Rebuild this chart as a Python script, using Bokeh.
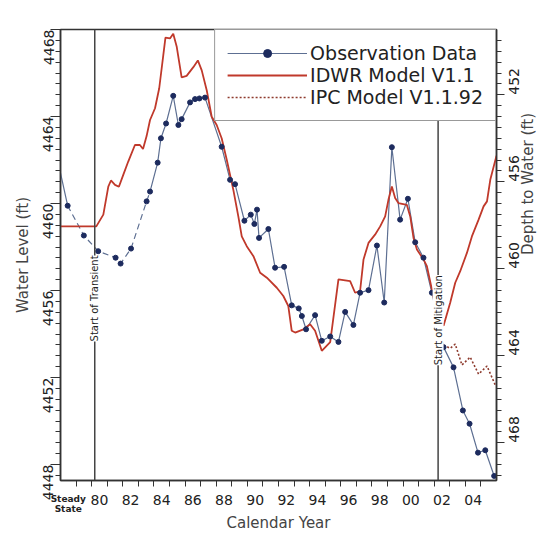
import math
from bokeh.plotting import figure
from bokeh.models import Range1d, LinearAxis, FixedTicker, Span, Label, Legend, LegendItem
from bokeh.embed import file_html
from bokeh.resources import INLINE

# ---------------- data ----------------
obs_year = [1978.00, 1978.46, 1979.50, 1980.42, 1981.54, 1981.86, 1982.53, 1983.53, 1983.75,
            1984.24, 1984.45, 1984.78, 1985.24, 1985.57, 1985.78, 1986.32, 1986.64, 1986.92,
            1987.28, 1988.35, 1988.89, 1989.21, 1989.81, 1990.22, 1990.45, 1990.62, 1990.75,
            1991.35, 1991.78, 1992.36, 1992.85, 1993.30, 1993.50, 1993.77, 1994.35, 1994.78,
            1995.32, 1995.85, 1996.28, 1996.81, 1997.24, 1997.78, 1998.32, 1998.79, 1999.28,
            1999.81, 2000.31, 2000.78, 2001.31, 2001.85, 2002.60, 2003.24, 2003.84, 2004.27,
            2004.81, 2005.28, 2005.85]
obs_level = [4461.40, 4459.90, 4458.53, 4457.81, 4457.51, 4457.24, 4457.93, 4460.10, 4460.55,
             4461.88, 4463.00, 4463.68, 4464.95, 4463.61, 4463.88, 4464.65, 4464.80, 4464.83,
             4464.87, 4462.61, 4461.09, 4460.89, 4459.21, 4459.49, 4459.06, 4459.72, 4458.42,
             4458.83, 4457.05, 4457.09, 4455.32, 4455.18, 4454.83, 4454.22, 4454.87, 4453.69,
             4453.89, 4453.64, 4455.02, 4454.42, 4455.90, 4456.02, 4458.07, 4455.45, 4462.59,
             4459.26, 4460.22, 4458.22, 4457.51, 4455.90, 4453.40, 4452.47, 4450.49, 4449.88,
             4448.55, 4448.66, 4447.48]
obs_dashed_from = 1      # index where the interpolated (dashed) part begins
obs_dashed_to = 8        # index where it ends

idwr_year = [1978.00, 1980.30, 1980.75, 1981.07, 1981.24, 1981.50, 1981.75, 1982.03, 1982.35,
             1982.78, 1983.10, 1983.30, 1983.53, 1983.75, 1984.07, 1984.34, 1984.60, 1984.74,
             1985.03, 1985.24, 1985.46, 1985.78, 1986.10, 1986.53, 1986.82, 1987.07, 1987.39,
             1987.71, 1988.03, 1988.35, 1988.68, 1989.10, 1989.42, 1989.64, 1989.96, 1990.39,
             1990.82, 1991.25, 1991.89, 1992.31, 1992.63, 1992.85, 1993.07, 1993.60, 1994.03,
             1994.35, 1994.78, 1995.32, 1995.85, 1996.60, 1996.92, 1997.24, 1997.46, 1997.78,
             1998.20, 1998.53, 1998.85, 1999.06, 1999.28, 1999.49, 1999.70, 2000.24, 2000.46,
             2000.67, 2000.89, 2001.31, 2001.53, 2001.85, 2002.17, 2002.60, 2003.03, 2003.35,
             2003.67, 2004.10, 2004.42, 2004.85, 2005.17, 2005.39, 2005.60, 2006.00]
idwr_level = [4458.95, 4458.95, 4459.49, 4460.78, 4461.06, 4460.86, 4460.77, 4461.32, 4461.93,
              4462.69, 4462.69, 4462.51, 4463.10, 4463.84, 4464.38, 4465.30, 4466.81, 4467.63,
              4467.59, 4467.80, 4467.22, 4465.80, 4465.87, 4466.27, 4466.58, 4466.12, 4465.21,
              4463.99, 4463.61, 4463.00, 4462.00, 4460.63, 4459.41, 4458.49, 4458.04, 4457.58,
              4456.82, 4456.59, 4456.13, 4455.75, 4455.29, 4454.15, 4454.07, 4454.22, 4454.45,
              4454.15, 4453.23, 4453.63, 4456.51, 4456.43, 4455.90, 4455.98, 4457.43, 4458.19,
              4458.57, 4458.95, 4459.41, 4460.17, 4460.78, 4460.25, 4460.02, 4459.94, 4459.41,
              4458.42, 4457.89, 4457.43, 4457.12, 4456.05, 4454.99, 4454.38, 4455.45, 4456.36,
              4456.89, 4457.73, 4458.49, 4459.26, 4459.87, 4460.10, 4461.09, 4462.20]

ipc_year = [2002.60, 2003.03, 2003.35, 2003.78, 2004.31, 2004.85, 2005.39, 2005.92]
ipc_level = [4453.49, 4453.35, 4453.54, 4452.58, 4452.94, 4452.16, 4452.53, 4451.66]

event_year = [1980.2, 2002.25]
event_text = ["Start of Transient", "Start of Mitigation"]
event_text_level = [4455.64, 4454.64]

x_label_years = [1980, 1982, 1984, 1986, 1988, 1990, 1992, 1994, 1996, 1998, 2000, 2002, 2004]
x_labels = ["80", "82", "84", "86", "88", "90", "92", "94", "96", "98", "00", "02", "04"]
steady_year = 1978
steady_text = "Steady\nState"

level_ticks = [4448, 4452, 4456, 4460, 4464, 4468]
depth_ticks = [452, 456, 460, 464, 468]
depth_datum = 4917.0

series_names = ["Observation Data", "IDWR Model V1.1", "IPC Model V1.1.92"]

# ---------------- figure ----------------
X0, X1 = 1978.0, 2006.0
Y0, Y1 = 4447.27, 4468.0
FONT = "DejaVu Sans"
AX = "#333333"

p = figure(width=548, height=534, x_range=Range1d(X0, X1), y_range=Range1d(Y0, Y1),
           output_backend="svg", toolbar_location=None,
           min_border_left=60, min_border_right=52, min_border_top=29, min_border_bottom=52)
p.background_fill_color = "white"
p.border_fill_color = "white"
p.outline_line_color = AX
p.outline_line_width = 1.5
p.xgrid.visible = False
p.ygrid.visible = False

# x axis (year labels centred in each year, ticks at year boundaries)
xa = p.xaxis[0]
xa.ticker = FixedTicker(ticks=[y + 0.5 for y in x_label_years],
                        minor_ticks=[float(y) for y in range(1979, 2006)])
xa.major_label_overrides = {y + 0.5: t for y, t in zip(x_label_years, x_labels)}
xa.major_tick_out = 0
xa.major_tick_in = 0
xa.minor_tick_out = 6
xa.minor_tick_in = 0
xa.major_label_standoff = 8
xa.major_label_text_font = FONT
xa.major_label_text_font_size = "14px"
xa.major_label_text_color = "#222222"
xa.axis_line_color = AX
xa.axis_line_width = 1.5
xa.major_tick_line_color = AX
xa.minor_tick_line_color = AX

# second bottom axis: the small "Steady State" label and the axis title
xb = LinearAxis(ticker=FixedTicker(ticks=[steady_year + 0.5]))
xb.major_label_overrides = {steady_year + 0.5: steady_text}
xb.major_label_text_font = FONT
xb.major_label_text_font_size = "9px"
xb.major_label_text_font_style = "bold"
xb.major_label_text_color = "#222222"
xb.major_label_text_line_height = 1.0
xb.major_label_standoff = -14
xb.major_tick_out = 0
xb.major_tick_in = 0
xb.minor_tick_out = 0
xb.minor_tick_in = 0
xb.axis_line_color = None
xb.axis_label = "Calendar Year"
xb.axis_label_text_font = FONT
xb.axis_label_text_font_size = "15px"
xb.axis_label_text_font_style = "normal"
xb.axis_label_standoff = -3
p.add_layout(xb, "below")

# left axis
ya = p.yaxis[0]
ya.ticker = FixedTicker(ticks=level_ticks,
                        minor_ticks=[4447.5 + 0.5 * i for i in range(41)])
ya.major_tick_out = 10
ya.major_tick_in = 0
ya.minor_tick_out = 5
ya.minor_tick_in = 0
ya.major_label_orientation = math.pi / 2
ya.major_label_standoff = 2
ya.major_label_text_font = FONT
ya.major_label_text_font_size = "14px"
ya.major_label_text_color = "#222222"
ya.axis_label = "Water Level (ft)"
ya.axis_label_text_font = FONT
ya.axis_label_text_font_size = "15px"
ya.axis_label_text_font_style = "normal"
ya.axis_label_standoff = 4
ya.axis_line_color = AX
ya.axis_line_width = 1.5
ya.major_tick_line_color = AX
ya.minor_tick_line_color = AX

# right axis (depth to water)
p.extra_y_ranges = {"depth": Range1d(depth_datum - Y0, depth_datum - Y1)}
ra = LinearAxis(y_range_name="depth")
ra.ticker = FixedTicker(ticks=depth_ticks,
                        minor_ticks=[449.5 + 0.5 * i for i in range(41)])
ra.major_tick_out = 8
ra.major_tick_in = 0
ra.minor_tick_out = 5
ra.minor_tick_in = 0
ra.major_label_orientation = math.pi / 2
ra.major_label_standoff = 10
ra.major_label_text_font = FONT
ra.major_label_text_font_size = "14px"
ra.major_label_text_color = "#222222"
ra.axis_label = "Depth to Water (ft)"
ra.axis_label_orientation = math.pi / 2
ra.axis_label_text_font = FONT
ra.axis_label_text_font_size = "15px"
ra.axis_label_text_font_style = "normal"
ra.axis_label_standoff = 0
ra.axis_line_color = AX
ra.axis_line_width = 1.5
ra.major_tick_line_color = AX
ra.minor_tick_line_color = AX
p.add_layout(ra, "right")

# event lines
for yr in event_year:
    p.add_layout(Span(location=yr, dimension="height", line_color="#444444", line_width=1.5))

# series
OBS_LINE = "#5d6f92"
OBS_DOT = "#1d2b5e"
RED = "#c0392b"
IPC = "#8e3b2e"

p.line(obs_year[:obs_dashed_from + 1], obs_level[:obs_dashed_from + 1],
       line_color=OBS_LINE, line_width=1.2)
p.line(obs_year[obs_dashed_from:obs_dashed_to + 1], obs_level[obs_dashed_from:obs_dashed_to + 1],
       line_color=OBS_LINE, line_width=1.2, line_dash="6 4")
r_obs_line = p.line(obs_year[obs_dashed_to:], obs_level[obs_dashed_to:],
                    line_color=OBS_LINE, line_width=1.2)
r_idwr = p.line(idwr_year, idwr_level, line_color=RED, line_width=1.8)
r_ipc = p.line(ipc_year, ipc_level, line_color=IPC, line_width=1.6, line_dash="2 2")
r_obs_dot = p.scatter(obs_year[1:], obs_level[1:], size=5, fill_color=OBS_DOT,
                      line_color=OBS_DOT)

# event labels
for yr, txt, lv in zip(event_year, event_text, event_text_level):
    p.add_layout(Label(x=yr, y=lv, text=txt, angle=math.pi / 2, text_align="center",
                       text_baseline="middle", text_font=FONT, text_font_size="10px",
                       text_color="#222222", background_fill_color="white",
                       background_fill_alpha=1.0))

# legend
legend = Legend(items=[LegendItem(label=series_names[0], renderers=[r_obs_line, r_obs_dot]),
                       LegendItem(label=series_names[1], renderers=[r_idwr]),
                       LegendItem(label=series_names[2], renderers=[r_ipc])],
                location="top_right", margin=0, padding=12, spacing=0,
                glyph_width=80, glyph_height=20, label_height=20, label_standoff=3,
                label_text_font=FONT, label_text_font_size="19px",
                label_text_color="#222222",
                border_line_color=AX, border_line_width=1.5,
                background_fill_color="white", background_fill_alpha=1.0)
p.add_layout(legend)

open("out.html", "w").write(file_html(p, INLINE))
